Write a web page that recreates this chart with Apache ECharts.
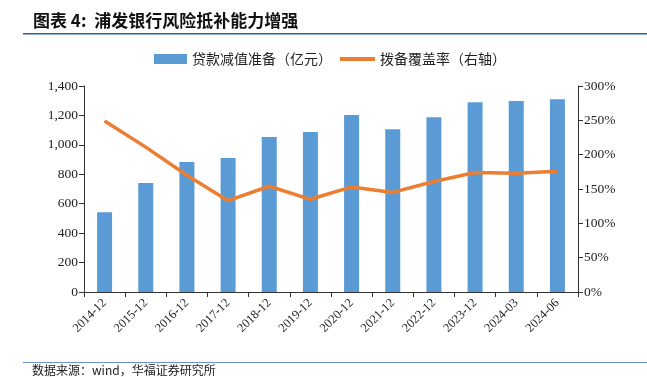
<!DOCTYPE html>
<html>
<head>
<meta charset="utf-8">
<script src="https://cdn.jsdelivr.net/npm/echarts@6/dist/echarts.min.js"></script>
<style>
  html, body { margin: 0; padding: 0; background: #fff; }
  #chart { width: 647px; height: 377px; }
</style>
</head>
<body>
<div id="chart"></div>
<script>
// 数据
var categories = ['2014-12', '2015-12', '2016-12', '2017-12', '2018-12', '2019-12',
  '2020-12', '2021-12', '2022-12', '2023-12', '2024-03', '2024-06'];
var provision = [542, 741, 884, 911, 1054, 1088, 1203, 1106, 1188, 1290, 1298, 1310];
var coverage = [249, 211, 170, 133, 154, 135, 153, 145, 161, 174, 173, 176];
var leftTicks = [0, 200, 400, 600, 800, 1000, 1200, 1400];
var rightTicks = [0, 50, 100, 150, 200, 250, 300];

var serif = '"Liberation Serif", "Noto Sans CJK SC", serif';
var cjk = '"Noto Sans CJK SC", sans-serif';
var ink = '#222', axisInk = '#333', blue = '#5B9BD5', orange = '#ED7D31', rule = '#2E5DA8';

var chart = echarts.init(document.getElementById('chart'), null, { renderer: 'canvas' });
chart.setOption({
  animation: false,
  grid: { left: 84, right: 69, top: 86, bottom: 85 },
  legend: [{
    top: 52, left: 154, itemGap: 6, padding: 0,
    itemWidth: 33, itemHeight: 10,
    textStyle: { fontFamily: cjk, fontSize: 14, color: ink },
    data: [{ name: '贷款减值准备（亿元）', icon: 'rect' }]
  }, {
    top: 52, left: 340, itemGap: 6, padding: 0,
    itemWidth: 35, itemHeight: 10,
    textStyle: { fontFamily: cjk, fontSize: 14, color: ink },
    data: [{ name: '拨备覆盖率（右轴）', icon: 'path://M0,0 H35 V4 H0 Z' }]
  }],
  xAxis: {
    type: 'category', data: categories,
    axisLine: { lineStyle: { color: axisInk, width: 1 } },
    axisTick: { show: true, length: 5, lineStyle: { color: axisInk } },
    axisLabel: { rotate: 45, fontFamily: serif, fontSize: 12.5, color: ink, margin: 9, interval: 0 }
  },
  yAxis: [{
    type: 'value', min: leftTicks[0], max: leftTicks[leftTicks.length - 1], interval: 200,
    axisLine: { show: true, lineStyle: { color: axisInk } },
    axisTick: { show: true, length: 5, lineStyle: { color: axisInk } },
    splitLine: { show: false },
    axisLabel: { fontFamily: serif, fontSize: 13.5, color: ink, margin: 6,
      formatter: function(v) { return v.toLocaleString('en-US'); } }
  }, {
    type: 'value', min: rightTicks[0], max: rightTicks[rightTicks.length - 1], interval: 50,
    axisLine: { show: true, lineStyle: { color: axisInk } },
    axisTick: { show: true, length: 5, lineStyle: { color: axisInk } },
    splitLine: { show: false },
    axisLabel: { fontFamily: serif, fontSize: 13.5, color: ink, margin: 6, formatter: '{value}%' }
  }],
  series: [{
    name: '贷款减值准备（亿元）', type: 'bar', data: provision, barWidth: 15,
    itemStyle: { color: blue }
  }, {
    name: '拨备覆盖率（右轴）', type: 'line', yAxisIndex: 1, data: coverage,
    symbol: 'none', lineStyle: { color: orange, width: 3.5 }, itemStyle: { color: orange }
  }],
  graphic: [
    { type: 'text', left: 33, top: 12,
      style: { text: '图表 4:  浦发银行风险抵补能力增强', fontFamily: cjk, fontWeight: 'bold', fontSize: 17, fill: '#111' } },
    { type: 'rect', shape: { x: 23, y: 33, width: 624, height: 1.5 }, style: { fill: rule } },
    { type: 'rect', shape: { x: 23, y: 362, width: 624, height: 1 }, style: { fill: '#6E8FC9' } },
    { type: 'text', left: 32, top: 364,
      style: { text: '数据来源：wind，华福证券研究所', fontFamily: cjk, fontSize: 12, fill: ink } }
  ]
});
</script>
</body>
</html>
